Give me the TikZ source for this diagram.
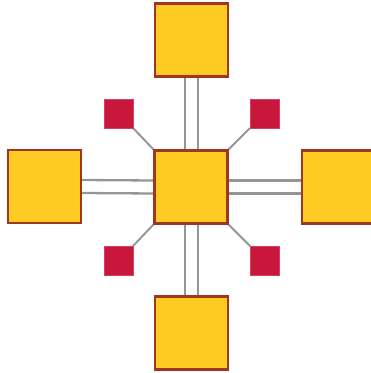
\documentclass[tikz,border=0pt]{standalone}
\usetikzlibrary{backgrounds}
\begin{document}
\begin{tikzpicture}[x=1pt,y=-1pt,
  bigbox/.style={draw=boxedge,fill=boxfill,line width=2.2pt,minimum size=73pt,inner sep=0pt,outer sep=0pt},
  smallbox/.style={fill=smallred,draw=smallred!75!pink,line width=0.6pt,minimum size=29pt,inner sep=0pt,outer sep=0pt},
  bar/.style={draw=linegray,line width=2.3pt},
  spoke/.style={draw=linegray,line width=1.9pt}]
\definecolor{boxfill}{HTML}{FDCB22}
\definecolor{boxedge}{HTML}{9E3620}
\definecolor{smallred}{HTML}{C8163C}
\definecolor{linegray}{HTML}{959595}
\useasboundingbox (0,0) rectangle (371,373);
\clip (0,0) rectangle (371,373);
% big boxes
\node[bigbox] (c) at (191,187) {};
\node[bigbox] (t) at (191.5,40) {};
\node[bigbox] (b) at (191.5,333) {};
\node[bigbox] (l) at (44.5,186.5) {};
\node[bigbox] (r) at (338.5,187) {};
% small boxes
\node[smallbox] (tl) at (118.5,113.5) {};
\node[smallbox] (tr) at (264.5,113.5) {};
\node[smallbox] (bl) at (118.5,260.5) {};
\node[smallbox] (br) at (264.5,260.5) {};
\begin{scope}[on background layer]
% double bars
\draw[bar] ([xshift=-6.5pt]t.south) -- ([xshift=-6pt]c.north);
\draw[bar] ([xshift=6.5pt]t.south) -- ([xshift=7pt]c.north);
\draw[bar] ([xshift=-6pt]c.south) -- ([xshift=-6.5pt]b.north);
\draw[bar] ([xshift=7pt]c.south) -- ([xshift=6.5pt]b.north);
\draw[bar] ([yshift=-6.5pt]l.east) -- ([yshift=-6.5pt]c.west);
\draw[bar] ([yshift=6.5pt]l.east) -- ([yshift=6.5pt]c.west);
\draw[bar] ([yshift=-6.5pt]c.east) -- ([yshift=-6.5pt]r.west);
\draw[bar] ([yshift=6.5pt]c.east) -- ([yshift=6.5pt]r.west);
% spokes
\draw[spoke] (tl.south east) -- (c.north west);
\draw[spoke] (tr.south west) -- (c.north east);
\draw[spoke] (bl.north east) -- (c.south west);
\draw[spoke] (br.north west) -- (c.south east);
\end{scope}
\end{tikzpicture}
\end{document}
